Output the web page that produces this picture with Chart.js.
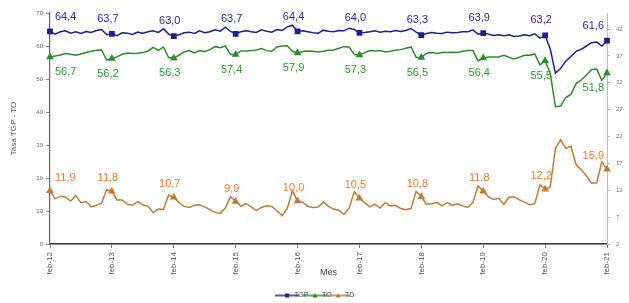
<!DOCTYPE html>
<html>
<head>
<meta charset="utf-8">
<script src="https://cdn.jsdelivr.net/npm/chart.js@4/dist/chart.umd.min.js"></script>
<style>
  html, body { margin: 0; padding: 0; background: #fff; }
  #wrap { width: 629px; height: 303px; }
</style>
</head>
<body>
<div id="wrap"><canvas id="laborChart" width="629" height="303"></canvas></div>
<script>
// months feb-12 .. feb-21
const monthNames = ['ene', 'feb', 'mar', 'abr', 'may', 'jun', 'jul', 'ago', 'sep', 'oct', 'nov', 'dic'];
const years = [12, 13, 14, 15, 16, 17, 18, 19, 20, 21];

const tgp = [
    64.4, 63.6, 64.3, 64.6, 63.9, 64.3, 63.8, 64.4, 64.1, 64.7, 65.0,
    63.4, 63.7, 63.1, 64.0, 63.9, 63.5, 64.2, 63.9, 64.3, 64.6, 64.1, 65.2,
    63.6, 63.0, 63.4, 64.0, 64.2, 63.8, 64.6, 64.0, 64.3, 64.9, 64.5, 65.7,
    64.4, 63.7, 64.3, 64.6, 64.3, 64.1, 64.9, 64.5, 64.2, 65.0, 64.7, 65.8,
    66.3, 64.4, 64.6, 64.3, 64.0, 63.9, 64.8, 64.5, 64.3, 64.7, 64.6, 65.4,
    65.0, 64.0, 64.1, 64.3, 64.6, 64.2, 64.5, 64.3, 64.7, 64.4, 64.7, 65.3,
    64.2, 63.3, 63.8, 64.1, 63.9, 63.8, 64.2, 64.0, 64.1, 64.3, 64.3, 64.9,
    63.6, 63.9, 63.6, 63.2, 63.4, 63.1, 63.4, 62.9, 63.0, 63.4, 63.1, 63.7,
    62.4, 63.2, 59.1, 51.8, 53.2, 55.4, 56.8, 58.4, 59.0, 60.0, 61.0, 61.2,
    60.0, 61.6
];
const to = [
    56.7, 57.0, 57.3, 57.7, 57.5, 57.2, 57.6, 58.0, 58.4, 58.7, 58.8,
    55.7, 56.2, 56.7, 57.5, 57.9, 57.7, 57.8, 58.0, 58.5, 59.6, 58.7, 59.7,
    56.5, 56.3, 57.2, 58.2, 58.6, 57.9, 58.6, 58.3, 58.9, 59.8, 59.5, 60.0,
    57.4, 57.4, 58.5, 58.5, 58.6, 58.8, 59.2, 58.6, 58.4, 59.7, 60.0, 60.1,
    58.4, 57.9, 58.3, 58.5, 58.4, 58.2, 58.4, 58.7, 58.8, 59.3, 59.8, 59.7,
    57.4, 57.3, 57.9, 58.6, 58.5, 58.6, 58.2, 58.4, 58.7, 58.9, 59.3, 59.7,
    56.6, 56.5, 57.8, 58.0, 57.7, 58.0, 58.0, 58.1, 58.0, 58.4, 58.6, 58.6,
    55.5, 56.4, 56.7, 56.7, 56.7, 57.2, 56.6, 56.1, 56.6, 57.2, 57.2, 57.6,
    54.3, 55.5, 51.7, 41.6, 41.8, 44.4, 45.3, 48.6, 49.7, 51.2, 52.9, 53.0,
    49.6, 51.8
];
const td = [
    11.9, 10.4, 10.9, 10.7, 10.0, 11.0, 9.7, 9.9, 8.9, 9.2, 9.6,
    12.1, 11.8, 10.2, 10.2, 9.4, 9.2, 9.9, 9.3, 9.0, 7.8, 8.5, 8.4,
    11.1, 10.7, 9.7, 9.0, 8.8, 9.2, 9.3, 8.9, 8.4, 7.9, 7.7, 8.7,
    10.8, 9.9, 9.0, 9.5, 8.9, 8.2, 8.8, 9.1, 9.0, 8.2, 7.3, 8.6,
    11.9, 10.0, 9.8, 9.0, 8.8, 8.9, 9.8, 9.0, 8.5, 8.3, 7.5, 8.7,
    11.7, 10.5, 9.7, 8.9, 9.4, 8.7, 9.7, 9.1, 9.2, 8.6, 8.4, 8.6,
    11.8, 10.8, 9.4, 9.5, 9.7, 9.1, 9.7, 9.2, 9.5, 9.1, 8.8, 9.7,
    12.8, 11.8, 10.8, 10.3, 10.5, 9.4, 10.7, 10.8, 10.2, 9.8, 9.3, 9.5,
    13.0, 12.2, 12.6, 19.8, 21.4, 19.8, 20.2, 16.8, 15.8, 14.7, 13.3, 13.4,
    17.3, 15.9
];

const leftTicks = [0, 10, 20, 30, 40, 50, 60, 70];
const rightTicks = [2, 7, 12, 17, 22, 27, 32, 37, 42];

// month labels, only february gets shown on the axis
const labels = [];
years.forEach((y, yi) => {
    monthNames.forEach((m, mi) => {
        if (yi === 0 && mi < 1) return;
        if (yi === years.length - 1 && mi > 1) return;
        labels.push(m + '-' + y);
    });
});

const isFeb = i => i % 12 === 0;
const fontName = "'Liberation Sans', Arial, sans-serif";

const colTGP = '#1f1f86';
const colTO = '#2f8a2f';
const colTD = '#c07a3a';

// legend swatch: short line with the marker in the middle
function swatch(color, style) {
    const c = document.createElement('canvas');
    c.width = 24; c.height = 8;
    const g = c.getContext('2d');
    g.strokeStyle = color; g.fillStyle = color; g.lineWidth = 1.5;
    g.beginPath(); g.moveTo(0, 4); g.lineTo(24, 4); g.stroke();
    g.beginPath();
    if (style === 'rect') g.rect(10, 2, 4, 4);
    else { g.moveTo(12, 1.5); g.lineTo(14.5, 6); g.lineTo(9.5, 6); g.closePath(); }
    g.fill();
    return c;
}

// data labels at the february points
const febLabels = {
    id: 'febLabels',
    afterDatasetsDraw(chart) {
        const ctx = chart.ctx;
        const setup = [
            { color: '#2a2a9c', dy: -15 },
            { color: '#2f9a2f', dy: 15 },
            { color: '#ee7a30', dy: -13 }
        ];
        ctx.save();
        ctx.font = '11px ' + fontName;
        ctx.textBaseline = 'middle';
        chart.data.datasets.forEach((ds, di) => {
            const meta = chart.getDatasetMeta(di);
            meta.data.forEach((pt, i) => {
                if (!isFeb(i)) return;
                const txt = ds.data[i].toFixed(1).replace('.', ',');
                let x = pt.x - 4;
                ctx.textAlign = 'center';
                if (i === 0) { ctx.textAlign = 'left'; x = pt.x + 5; }
                if (i === ds.data.length - 1) { ctx.textAlign = 'right'; x = pt.x - 3; }
                ctx.fillStyle = setup[di].color;
                ctx.fillText(txt, x, pt.y + setup[di].dy);
            });
        });
        ctx.restore();
    }
};

const pointR = c => isFeb(c.dataIndex) ? 3 : 0;

new Chart(document.getElementById('laborChart'), {
    type: 'line',
    data: {
        labels: labels,
        datasets: [
            { label: 'TGP', data: tgp, borderColor: colTGP, backgroundColor: colTGP, borderWidth: 1.5,
              pointStyle: 'rect', pointRadius: pointR, yAxisID: 'y', tension: 0 },
            { label: 'TO', data: to, borderColor: colTO, backgroundColor: colTO, borderWidth: 1.5,
              pointStyle: 'triangle', pointRadius: pointR, yAxisID: 'y', tension: 0 },
            { label: 'TD', data: td, borderColor: colTD, backgroundColor: colTD, borderWidth: 1.5,
              pointStyle: 'triangle', pointRadius: pointR, yAxisID: 'y2', tension: 0 }
        ]
    },
    options: {
        responsive: false,
        animation: false,
        layout: { padding: { top: 13, left: 9, right: 0, bottom: -6 } },
        plugins: {
            tooltip: { enabled: false },
            legend: {
                position: 'bottom',
                labels: {
                    font: { family: fontName, size: 7 },
                    color: '#444',
                    usePointStyle: true,
                    padding: 3,
                    boxHeight: 8,
                    generateLabels: chart => chart.data.datasets.map((ds, i) => ({
                        text: ds.label,
                        pointStyle: swatch(ds.borderColor, ds.pointStyle),
                        datasetIndex: i,
                        fontColor: '#444',
                        lineWidth: 0
                    }))
                }
            }
        },
        scales: {
            x: {
                grid: { drawOnChartArea: false, tickLength: 4, color: '#777' },
                border: { color: '#333', width: 1.5 },
                ticks: {
                    autoSkip: false, maxRotation: 90, minRotation: 90,
                    font: { family: fontName, size: 8 }, color: '#555', padding: 4,
                    callback: function (v, i) { return isFeb(i) ? labels[i] : null; }
                },
                title: { display: true, text: 'Mes', font: { family: fontName, size: 9 }, color: '#444',
                         padding: { top: 0, bottom: 11 } },
                afterFit: s => { s.height = 45; }
            },
            y: {
                position: 'left', min: 0, max: 70,
                grid: { drawOnChartArea: false, tickLength: 4, color: '#888' },
                border: { color: '#666', width: 1.2 },
                ticks: { font: { family: fontName, size: 6 }, color: '#666', padding: 3 },
                afterBuildTicks: s => { s.ticks = leftTicks.map(v => ({ value: v })); },
                title: { display: true, text: 'Tasa TGP - TO', font: { family: fontName, size: 8 }, color: '#555', padding: 0 },
                afterFit: s => { s.width = 41; }
            },
            y2: {
                position: 'right', min: 2, max: 45,
                grid: { drawOnChartArea: false, tickLength: 3, color: '#bbb' },
                border: { color: '#bbb', width: 1 },
                ticks: { font: { family: fontName, size: 6 }, color: '#777', padding: 6 },
                afterBuildTicks: s => { s.ticks = rightTicks.map(v => ({ value: v })); },
                afterFit: s => { s.width = 22; }
            }
        }
    },
    plugins: [febLabels]
});
</script>
</body>
</html>
